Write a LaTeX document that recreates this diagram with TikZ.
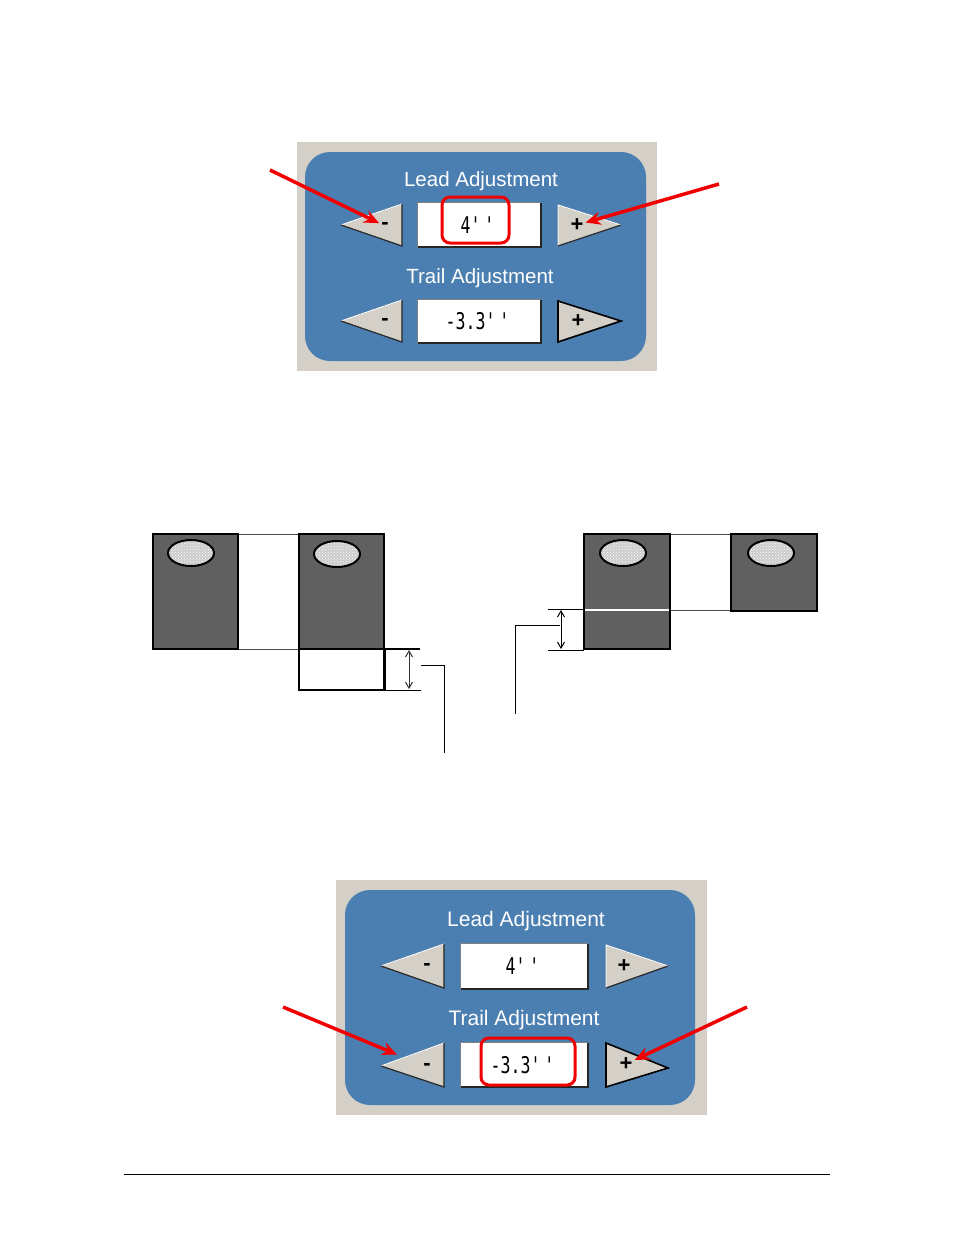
\documentclass[tikz,border=0pt]{standalone}
\usepackage{fontspec}
\newfontfamily\uifont{Liberation Sans}
\newfontfamily\valfont{DejaVu Sans Mono}[FakeStretch=0.72]
\usetikzlibrary{arrows.meta,patterns}

\definecolor{panelgray}{RGB}{212,208,200}
\definecolor{panelblue}{RGB}{76,127,177}
\definecolor{blockgray}{RGB}{96,96,96}
\definecolor{markred}{RGB}{240,0,0}

\tikzset{
  title/.style={text=white, inner sep=0pt, font=\uifont\fontsize{20.5}{24}\selectfont},
  valbox/.style={fill=white, inner sep=0pt, font=\valfont\fontsize{23}{25}\selectfont},
  sign/.style={inner sep=2pt, font=\uifont\bfseries\fontsize{22}{24}\selectfont},
  btnface/.style={fill=panelgray},
  btnlight/.style={draw=white, line width=1pt},
  btndark/.style={draw=gray!35!black, line width=1.2pt},
  btnpressed/.style={draw=black, line width=1.6pt},
  redbox/.style={draw=markred, line width=3pt, rounded corners=8pt},
  redarrow/.style={draw=markred, line width=3.5pt, -{Stealth[length=15pt,width=13pt]}},
  block/.style={fill=blockgray, draw=black, line width=2pt},
  hole/.style={preaction={fill=gray!40}, pattern=crosshatch dots, pattern color=white, draw=black, line width=2pt},
  dimline/.style={line width=1pt},
  dimarrow/.style={line width=1pt, {Straight Barb[length=6pt,width=7pt]}-{Straight Barb[length=6pt,width=7pt]}}
}

\newcommand{\valquote}{\textquotesingle\textquotesingle}

\begin{document}
\begin{tikzpicture}[x=1pt, y=-1pt]
    \useasboundingbox (0,0) rectangle (954,1235);

    % the upper panel
    \fill[panelgray] (297,142) rectangle (657,371);
    \fill[panelblue, rounded corners=25pt] (305,152) rectangle (646,361);

    \node[title] (lead1) at (481,181) {Lead Adjustment};
    \node[title] (trail1) at (480,278) {Trail Adjustment};

    \filldraw[btnface] (341,225) -- (402,204) -- (402,246) -- cycle;
    \draw[btnlight] (341,225) -- (402,204);
    \draw[btndark] (402,204) -- (402,246) -- (341,225);
    \filldraw[btnface] (558,205) -- (621,225) -- (558,246) -- cycle;
    \draw[btnlight] (558,246) -- (558,205) -- (621,225);
    \draw[btndark] (621,225) -- (558,246);
    \filldraw[btnface] (341,321) -- (402,300) -- (402,342) -- cycle;
    \draw[btnlight] (341,321) -- (402,300);
    \draw[btndark] (402,300) -- (402,342) -- (341,321);
    \filldraw[btnface] (558,301) -- (621,321) -- (558,342) -- cycle;
    \draw[btnpressed] (558,342) -- (558,301) -- (621,321) -- cycle;

    \node[sign] (dec1) at (385,226) {-};
    \node[sign] (inc1) at (577,225) {+};
    \node[sign] (dec2) at (385,322) {-};
    \node[sign] (inc2) at (578,321) {+};

    \node[valbox, minimum width=123pt, minimum height=44pt] (lead1val) at (479.5,225) {4\valquote};
    \node[valbox, minimum width=123pt, minimum height=43pt] (trail1val) at (479.5,321.5) {-3.3\valquote};
    \draw[gray, line width=1pt] (lead1val.south west) -- (lead1val.north west) -- (lead1val.north east);
    \draw[gray!30!black, line width=1.5pt] (lead1val.north east) -- (lead1val.south east) -- (lead1val.south west);
    \draw[gray, line width=1pt] (trail1val.south west) -- (trail1val.north west) -- (trail1val.north east);
    \draw[gray!30!black, line width=1.5pt] (trail1val.north east) -- (trail1val.south east) -- (trail1val.south west);

    \node[redbox, minimum width=67pt, minimum height=46pt] (mark1) at (475.5,220) {};

    % the arrows of the upper panel
    \coordinate (p1) at (270,170);
    \coordinate (p2) at (719,184);
    \draw[redarrow] (p1) -- (dec1);
    \draw[redarrow] (p2) -- (inc1);

    % the left pair of blocks
    \draw[line width=0.8pt, gray!60!black] (238,534) -- (299,534);
    \draw[line width=0.8pt, gray!60!black] (238,649) -- (299,649);
    \filldraw[block] (153,534) rectangle (238,649);
    \filldraw[hole] (191,553) ellipse [x radius=23pt, y radius=13pt];
    \filldraw[block, line width=2.5pt] (299,534) rectangle (384,649);
    \filldraw[hole] (337,554) ellipse [x radius=23pt, y radius=13pt];
    \draw[line width=2pt] (299,649) rectangle (384,690);
    \draw[line width=3pt] (384,649) -- (384,690);

    \coordinate (a1) at (384,649);
    \coordinate (a2) at (420,649);
    \coordinate (a3) at (384,690);
    \coordinate (a4) at (421,690);
    \coordinate (a5) at (409,650);
    \coordinate (a6) at (409,689);
    \coordinate (a7) at (421,665);
    \coordinate (a8) at (444,753);
    \draw[dimline, line width=1.5pt] (a1) -- (a2);
    \draw[dimline] (a3) -- (a4);
    \draw[dimarrow, gray!40!black] (a5) -- (a6);
    \draw[dimline] (a7) -| (a8);

    % the right pair of blocks
    \draw[line width=0.8pt, gray!60!black] (670,534) -- (731,534);
    \draw[line width=1pt, gray!60!black] (670,610) -- (731,610);
    \filldraw[block] (584,534) rectangle (670,649);
    \draw[white, line width=2pt] (585,610) -- (669,610);
    \filldraw[hole] (623,553) ellipse [x radius=23pt, y radius=13pt];
    \filldraw[block] (731,534) rectangle (817,611);
    \filldraw[hole] (771,553) ellipse [x radius=23pt, y radius=13pt];

    \coordinate (b1) at (548,609);
    \coordinate (b2) at (584,609);
    \coordinate (b3) at (548,650);
    \coordinate (b4) at (584,650);
    \coordinate (b5) at (561,610);
    \coordinate (b6) at (561,649);
    \coordinate (b7) at (560,625);
    \coordinate (b8) at (515,714);
    \draw[dimline] (b1) -- (b2);
    \draw[dimline] (b3) -- (b4);
    \draw[dimarrow] (b5) -- (b6);
    \draw[dimline] (b7) -| (b8);

    % the lower panel
    \fill[panelgray] (336,880) rectangle (707,1115);
    \fill[panelblue, rounded corners=25pt] (345,890) rectangle (695,1105);

    \node[title, font=\uifont\fontsize{21}{24}\selectfont] (lead2) at (526,921) {Lead Adjustment};
    \node[title, font=\uifont\fontsize{21}{24}\selectfont] (trail2) at (524,1020) {Trail Adjustment};

    \filldraw[btnface] (381,966) -- (444,944) -- (444,988) -- cycle;
    \draw[btnlight] (381,966) -- (444,944);
    \draw[btndark] (444,944) -- (444,988) -- (381,966);
    \filldraw[btnface] (606,945) -- (668,966) -- (606,988) -- cycle;
    \draw[btnlight] (606,988) -- (606,945) -- (668,966);
    \draw[btndark] (668,966) -- (606,988);
    \filldraw[btnface] (381,1066) -- (444,1043) -- (444,1087) -- cycle;
    \draw[btnlight] (381,1066) -- (444,1043);
    \draw[btndark] (444,1043) -- (444,1087) -- (381,1066);
    \filldraw[btnface] (606,1043) -- (668,1068) -- (606,1087) -- cycle;
    \draw[btnpressed] (606,1087) -- (606,1043) -- (668,1068) -- cycle;

    \node[sign] (dec3) at (427,967) {-};
    \node[sign] (inc3) at (624,966) {+};
    \node[sign] (dec4) at (427,1067) {-};
    \node[sign] (inc4) at (626,1064) {+};

    \node[valbox, minimum width=127pt, minimum height=45pt] (lead2val) at (524.5,966.5) {4\valquote};
    \node[valbox, minimum width=127pt, minimum height=44pt] (trail2val) at (524.5,1065) {-3.3\valquote};
    \draw[gray, line width=1pt] (lead2val.south west) -- (lead2val.north west) -- (lead2val.north east);
    \draw[gray!30!black, line width=1.5pt] (lead2val.north east) -- (lead2val.south east) -- (lead2val.south west);
    \draw[gray, line width=1pt] (trail2val.south west) -- (trail2val.north west) -- (trail2val.north east);
    \draw[gray!30!black, line width=1.5pt] (trail2val.north east) -- (trail2val.south east) -- (trail2val.south west);

    \node[redbox, minimum width=94pt, minimum height=47pt] (mark2) at (528,1061.5) {};

    % the arrows of the lower panel
    \coordinate (p3) at (283,1007);
    \coordinate (p4) at (747,1007);
    \draw[redarrow, shorten >=26pt] (p3) -- (dec4);
    \draw[redarrow] (p4) -- (inc4);

    % the rule at the foot
    \draw[line width=1pt] (124,1174) -- (830,1174);

\end{tikzpicture}
\end{document}
